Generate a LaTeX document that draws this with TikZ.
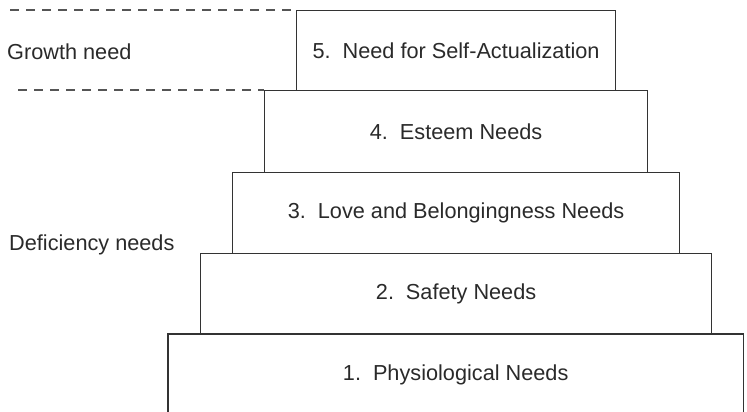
\documentclass[tikz,border=0pt]{standalone}
\usepackage{fontspec}
\setmainfont{Liberation Sans}
\definecolor{linec}{HTML}{333333}
\definecolor{dashc}{HTML}{555555}
\definecolor{txtc}{HTML}{2A2A2A}
\begin{document}
\begin{tikzpicture}[x=1pt,y=-1pt,
  box/.style={draw=linec, line width=1.2pt, anchor=north west, inner sep=0pt,
    text=txtc, font=\fontsize{21.7}{26}\selectfont},
  plain/.style={anchor=north west, inner sep=0pt, text=txtc, font=\fontsize{21.7}{26}\selectfont},
  side/.style={anchor=west, inner sep=0pt, text=txtc, font=\fontsize{21.7}{26}\selectfont},
  dashline/.style={draw=dashc, line width=1.1pt, dash pattern=on 9pt off 7pt}]
\useasboundingbox (0,0) rectangle (747,412);
\node[plain, minimum width=575pt, minimum height=82pt] (b1) at (168,334) {1.\hspace{0.55em}Physiological Needs};
\draw[linec, line width=1.2pt] ([yshift=-20pt]b1.south west) -- (b1.north west) -- (b1.north east) -- ([yshift=-20pt]b1.south east);
\node[box, minimum width=511pt, minimum height=81pt] (b2) at (200,253) {2.\hspace{0.55em}Safety Needs};
\node[box, minimum width=447pt, minimum height=81pt] (b3) at (232,172) {3.\hspace{0.55em}Love and Belongingness Needs};
\node[box, minimum width=383pt, minimum height=82pt] (b4) at (264,90) {4.\hspace{0.55em}Esteem Needs};
\node[box, minimum width=319pt, minimum height=80pt] (b5) at (296,10) {5.\hspace{0.55em}Need for Self-Actualization};
\coordinate (d1) at (10,10);
\coordinate (d2) at (18,90);
\draw[dashline] (d1) -- (b5.north west);
\draw[dashline] (d2) -- (b4.north west);
\node[side] (growth) at (7,52) {Growth need};
\node[side] (defic) at (9,245) {Deficiency needs};
\end{tikzpicture}
\end{document}
